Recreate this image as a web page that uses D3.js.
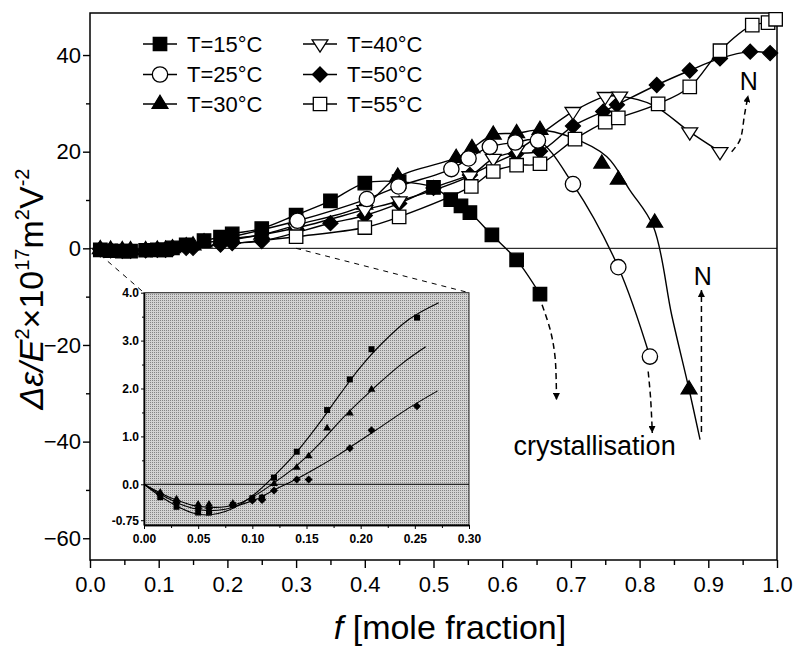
<!DOCTYPE html>
<html>
<head>
<meta charset="utf-8">
<script src="https://cdn.jsdelivr.net/npm/d3@7"></script>
<style>
body { margin: 0; background: #fff; }
svg { display: block; }
text { font-family: "Liberation Sans", Arial, sans-serif; }
</style>
</head>
<body>
<svg id="chart" width="795" height="650"></svg>
<script>
// ---- data (f = mole fraction, value = d-eps/E^2 x 1e17) ----
const legendLabels = ["T=15°C", "T=25°C", "T=30°C", "T=40°C", "T=50°C", "T=55°C"];
const xTicks = [0, 0.1, 0.2, 0.3, 0.4, 0.5, 0.6, 0.7, 0.8, 0.9, 1.0];
const yTicks = [-60, -40, -20, 0, 20, 40];
const insetXTicks = [0, 0.05, 0.10, 0.15, 0.20, 0.25, 0.30];
const insetYTicks = [-0.75, 0, 1, 2, 3, 4];

const t15 = [[0.015,-0.3],[0.03,-0.5],[0.047,-0.6],[0.059,-0.6],[0.081,-0.4],[0.098,-0.3],[0.11,-0.3],[0.12,0.1],[0.14,0.7],[0.166,1.6],[0.19,2.3],[0.207,3.0],[0.25,4.1],[0.30,6.9],[0.35,9.8],[0.40,13.5],[0.45,13.8],[0.50,12.6],[0.525,10.1],[0.54,8.8],[0.553,7.4],[0.585,2.8],[0.621,-2.4],[0.655,-9.5]];
const t25 = [[0.302,5.7],[0.403,10.2],[0.449,12.8],[0.526,16.4],[0.551,18.6],[0.582,21.0],[0.619,21.9],[0.652,22.3],[0.703,13.3],[0.769,-3.9],[0.815,-22.4]];
const t25Start = [[0.20,2.2]];
const t30 = [[0.015,-0.2],[0.03,-0.3],[0.047,-0.4],[0.059,-0.4],[0.081,-0.4],[0.098,-0.3],[0.11,-0.3],[0.12,0.0],[0.14,0.4],[0.15,0.6],[0.166,1.2],[0.19,1.5],[0.207,2.0],[0.25,2.8],[0.30,4.8],[0.40,9.0],[0.448,14.8],[0.533,18.7],[0.556,20.7],[0.587,23.5],[0.621,23.8],[0.655,24.5],[0.745,17.5],[0.769,14.2],[0.822,5.3],[0.872,-29.2]];
const t30Tail = [[0.70,23.0],[0.752,19.0],[0.786,12.0],[0.82,4.5],[0.847,-14.0],[0.872,-29.2],[0.888,-39.6]];
const t40 = [[0.30,4.2],[0.40,8.0],[0.45,9.8],[0.553,15.0],[0.587,18.6],[0.621,20.3],[0.703,28.3],[0.750,31.4],[0.771,31.5],[0.873,24.1],[0.917,20.0]];
const t40Start = [[0.20,1.6]];
const t40Tail = [[0.82,29.6],[0.873,24.1],[0.917,20.0]];
const t50 = [[0.015,-0.2],[0.03,-0.4],[0.047,-0.5],[0.059,-0.5],[0.081,-0.4],[0.098,-0.3],[0.11,-0.3],[0.12,-0.1],[0.14,0.1],[0.15,0.1],[0.19,0.8],[0.207,1.1],[0.25,1.5],[0.35,5.2],[0.40,6.8],[0.45,9.3],[0.50,12.5],[0.553,15.2],[0.62,19.5],[0.655,20.1],[0.703,25.3],[0.747,28.3],[0.767,29.7],[0.825,33.8],[0.873,36.8],[0.917,39.3],[0.961,40.7],[0.990,40.4]];
const t55 = [[0.30,2.4],[0.40,4.3],[0.45,6.5],[0.555,12.8],[0.587,15.9],[0.621,17.2],[0.655,17.5],[0.706,22.6],[0.750,26.1],[0.769,27.0],[0.827,29.9],[0.873,33.4],[0.917,40.9],[0.964,46.2],[0.987,46.7],[0.998,47.4]];
const t55Start = [[0.20,0.9]];

// inset (first part of the curves, enlarged)
const inset15 = [[0.015,-0.27],[0.03,-0.47],[0.05,-0.59],[0.06,-0.59],[0.082,-0.43],[0.10,-0.29],[0.109,-0.28],[0.12,0.14],[0.141,0.68],[0.169,1.55],[0.19,2.19],[0.21,2.82],[0.252,3.48]];
const inset30 = [[0.015,-0.17],[0.03,-0.31],[0.05,-0.42],[0.06,-0.42],[0.082,-0.40],[0.10,-0.31],[0.109,-0.28],[0.12,0.01],[0.141,0.35],[0.152,0.59],[0.169,1.17],[0.19,1.48],[0.21,1.98]];
const inset50 = [[0.015,-0.22],[0.03,-0.38],[0.05,-0.50],[0.06,-0.50],[0.082,-0.43],[0.10,-0.34],[0.109,-0.33],[0.12,-0.13],[0.141,0.10],[0.152,0.10],[0.19,0.75],[0.21,1.13],[0.252,1.63]];
const fit15 = [[0,0],[0.015,-0.25],[0.03,-0.45],[0.045,-0.6],[0.06,-0.64],[0.075,-0.57],[0.09,-0.4],[0.105,-0.15],[0.12,0.17],[0.14,0.65],[0.16,1.22],[0.18,1.85],[0.20,2.45],[0.22,2.95],[0.245,3.45],[0.272,3.79]];
const fit30 = [[0,0],[0.015,-0.18],[0.03,-0.33],[0.045,-0.44],[0.06,-0.48],[0.075,-0.47],[0.09,-0.38],[0.105,-0.2],[0.12,0.03],[0.14,0.37],[0.16,0.8],[0.18,1.3],[0.20,1.75],[0.22,2.17],[0.24,2.55],[0.26,2.87]];
const fit50 = [[0,0],[0.015,-0.21],[0.03,-0.38],[0.045,-0.5],[0.06,-0.55],[0.075,-0.52],[0.09,-0.42],[0.105,-0.3],[0.12,-0.12],[0.14,0.1],[0.16,0.35],[0.18,0.62],[0.20,0.92],[0.22,1.22],[0.245,1.6],[0.271,1.95]];

// dashed arrows (phase transitions)
const arrow15 = [[0.658,-11.7],[0.670,-16.9],[0.677,-22.6],[0.679,-31.4]];
const arrow25 = [[0.8125,-25.5],[0.816,-31.0],[0.8185,-38.2]];
const arrowN30 = [[0.890,-38.0],[0.890,-8.6]];
const arrowN40 = [[0.934,20.0],[0.946,22.4],[0.953,27.9],[0.958,31.7]];

// ---- symbols ----
const symSquare = { draw(c, s) { const r = Math.sqrt(s) / 2; c.rect(-r, -r, 2 * r, 2 * r); } };
const symCircle = { draw(c, s) { const r = Math.sqrt(s) / 2; c.moveTo(r, 0); c.arc(0, 0, r, 0, 2 * Math.PI); } };
const symTriUp = { draw(c, s) { const w = Math.sqrt(s) / 2, h = w * 1.65; c.moveTo(0, -h * 2 / 3); c.lineTo(w, h / 3); c.lineTo(-w, h / 3); c.closePath(); } };
const symTriDown = { draw(c, s) { const w = Math.sqrt(s) / 2, h = w * 1.55; c.moveTo(0, h * 2 / 3); c.lineTo(w, -h / 3); c.lineTo(-w, -h / 3); c.closePath(); } };
const symDiamond = { draw(c, s) { const r = Math.sqrt(s) / 2; c.moveTo(0, -r); c.lineTo(r, 0); c.lineTo(0, r); c.lineTo(-r, 0); c.closePath(); } };

const series = [
    { label: legendLabels[0], pts: t15, line: t15, sym: symSquare, size: 180, fill: "#000" },
    { label: legendLabels[1], pts: t25, line: t25Start.concat(t25), sym: symCircle, size: 235, fill: "#fff" },
    { label: legendLabels[2], pts: t30, line: t30.filter(d => d[0] <= 0.66).concat(t30Tail), sym: symTriUp, size: 250, fill: "#000" },
    { label: legendLabels[3], pts: t40, line: t40Start.concat(t40.filter(d => d[0] <= 0.78), t40Tail), sym: symTriDown, size: 250, fill: "#fff" },
    { label: legendLabels[4], pts: t50, line: t50, sym: symDiamond, size: 225, fill: "#000" },
    { label: legendLabels[5], pts: t55, line: t55Start.concat(t55), sym: symSquare, size: 180, fill: "#fff" }
];
const drawOrder = [0, 2, 4, 3, 1, 5];

const svg = d3.select("#chart");
const x = d3.scaleLinear().domain([0, 1]).range([90, 777]);
const y = d3.scaleLinear().domain([-64.5, 48.7]).range([560, 13]);

const defs = svg.append("defs");
defs.append("marker")
    .attr("id", "head")
    .attr("viewBox", "0 0 10 10")
    .attr("refX", 10).attr("refY", 5)
    .attr("markerWidth", 7).attr("markerHeight", 7)
    .attr("markerUnits", "userSpaceOnUse")
    .attr("orient", "auto")
    .append("path").attr("d", "M0,0L10,5L0,10z").attr("fill", "#000");
const pat = defs.append("pattern")
    .attr("id", "stipple").attr("width", 2).attr("height", 2)
    .attr("patternUnits", "userSpaceOnUse");
pat.append("rect").attr("width", 2).attr("height", 2).attr("fill", "#d3d3d3");
pat.append("rect").attr("width", 1).attr("height", 1).attr("fill", "#858585");

// ---- main axes ----
const axisStyle = g => {
    g.select(".domain").remove();
    g.selectAll(".tick line").attr("stroke", "#000").attr("stroke-width", 1.4);
    g.selectAll(".tick text").style("font-size", "22px").attr("fill", "#000");
};
svg.append("g").attr("transform", "translate(0,560)")
    .call(d3.axisBottom(x).tickValues(xTicks).tickFormat(d3.format(".1f")).tickSize(8).tickPadding(8))
    .call(axisStyle);
svg.append("g").attr("transform", "translate(0,560)")
    .call(d3.axisBottom(x).tickValues(d3.range(0.05, 1, 0.1)).tickFormat("").tickSize(5))
    .call(axisStyle);
svg.append("g").attr("transform", "translate(90,0)")
    .call(d3.axisLeft(y).tickValues(yTicks).tickSize(7).tickPadding(2))
    .call(axisStyle);
svg.append("g").attr("transform", "translate(90,0)")
    .call(d3.axisLeft(y).tickValues([-50, -30, -10, 10, 30]).tickFormat("").tickSize(4))
    .call(axisStyle);

svg.append("rect")
    .attr("x", x(0)).attr("y", y(48.7))
    .attr("width", x(1) - x(0)).attr("height", y(-64.5) - y(48.7))
    .attr("fill", "none").attr("stroke", "#000").attr("stroke-width", 1.5);
svg.append("line")
    .attr("x1", x(0)).attr("x2", x(1)).attr("y1", y(0)).attr("y2", y(0))
    .attr("stroke", "#000").attr("stroke-width", 1);

// axis titles
const yTitle = svg.append("text")
    .attr("transform", "translate(43,289) rotate(-90)")
    .attr("text-anchor", "middle")
    .style("font-size", "34px");
const supParts = [["Δε/", false, true], ["E", false, true], ["2", true], ["×10", false], ["17", true], ["m", false], ["2", true], ["V", false], ["-2", true]];
let up = false;
supParts.forEach(p => {
    const ts = yTitle.append("tspan").text(p[0]);
    if (p[2]) ts.style("font-style", "italic");
    if (p[1]) { ts.style("font-size", "20px").attr("dy", up ? 0 : -14); up = true; }
    else { ts.attr("dy", up ? 14 : 0); up = false; }
});
const xTitle = svg.append("text")
    .attr("x", 450).attr("y", 639)
    .attr("text-anchor", "middle")
    .style("font-size", "34px");
xTitle.append("tspan").style("font-style", "italic").text("f");
xTitle.append("tspan").text(" [mole fraction]");

// ---- inset ----
const ix = d3.scaleLinear().domain([0, 0.3]).range([144, 469]);
const iy = d3.scaleLinear().domain([-0.85, 4.0]).range([525, 292.7]);

// dashed connectors from the main plot to the inset
const conn = svg.append("g").attr("stroke", "#000").attr("stroke-width", 1).attr("stroke-dasharray", "5,5");
conn.append("line").attr("x1", x(0.004)).attr("y1", y(0)).attr("x2", ix(0)).attr("y2", iy(4.0));
conn.append("line").attr("x1", x(0.3)).attr("y1", y(0)).attr("x2", ix(0.3)).attr("y2", iy(4.0));

svg.append("rect")
    .attr("x", ix(0)).attr("y", iy(4.0))
    .attr("width", ix(0.3) - ix(0)).attr("height", iy(-0.85) - iy(4.0))
    .attr("fill", "url(#stipple)").attr("stroke", "#222").attr("stroke-width", 1);
svg.append("line")
    .attr("x1", ix(0)).attr("x2", ix(0.3)).attr("y1", iy(0)).attr("y2", iy(0))
    .attr("stroke", "#000").attr("stroke-width", 1);

const insetAxisStyle = g => {
    g.select(".domain").attr("stroke", "#000").attr("stroke-width", 1.3);
    g.selectAll(".tick line").attr("stroke", "#000");
    g.selectAll(".tick text").style("font-size", "12px").style("font-weight", "bold").attr("fill", "#000");
};
svg.append("g").attr("transform", `translate(0,${iy(-0.85)})`)
    .call(d3.axisBottom(ix).tickValues(insetXTicks).tickFormat(d3.format(".2f")).tickSize(4).tickSizeOuter(0).tickPadding(5))
    .call(insetAxisStyle);
svg.append("g").attr("transform", `translate(0,${iy(-0.85)})`)
    .call(d3.axisBottom(ix).tickValues(d3.range(0.025, 0.3, 0.05)).tickFormat("").tickSize(3).tickSizeOuter(0))
    .call(insetAxisStyle);
svg.append("g").attr("transform", `translate(${ix(0)},0)`)
    .call(d3.axisLeft(iy).tickValues(insetYTicks).tickFormat(d => d === -0.75 ? "-0.75" : d.toFixed(1)).tickSize(3).tickSizeOuter(0).tickPadding(2))
    .call(insetAxisStyle);
svg.append("g").attr("transform", `translate(${ix(0)},0)`)
    .call(d3.axisLeft(iy).tickValues([0.5, 1.5, 2.5, 3.5]).tickFormat("").tickSize(2).tickSizeOuter(0))
    .call(insetAxisStyle);

const insetLine = d3.line().x(d => ix(d[0])).y(d => iy(d[1])).curve(d3.curveCatmullRom.alpha(0.5));
[fit15, fit30, fit50].forEach(f => {
    svg.append("path").attr("d", insetLine(f)).attr("fill", "none").attr("stroke", "#000").attr("stroke-width", 1.1);
});
const insetSets = [
    { pts: inset15, sym: symSquare, size: 36 },
    { pts: inset30, sym: symTriUp, size: 64 },
    { pts: inset50, sym: symDiamond, size: 64 }
];
insetSets.forEach(s => {
    svg.append("g").selectAll("path").data(s.pts).join("path")
        .attr("transform", d => `translate(${ix(d[0])},${iy(d[1])})`)
        .attr("d", d3.symbol(s.sym, s.size))
        .attr("fill", "#000");
});

// ---- main series ----
const line = d3.line().x(d => x(d[0])).y(d => y(d[1])).curve(d3.curveCatmullRom.alpha(0.5));
series.forEach(s => {
    svg.append("path").attr("d", line(s.line))
        .attr("fill", "none").attr("stroke", "#000").attr("stroke-width", 1.4);
});

// dashed arrows
[arrow15, arrow25, arrowN30, arrowN40].forEach(a => {
    svg.append("path").attr("d", line(a))
        .attr("fill", "none").attr("stroke", "#000").attr("stroke-width", 1.5)
        .attr("stroke-dasharray", "6,4")
        .attr("marker-end", "url(#head)");
});

drawOrder.forEach(i => {
    const s = series[i];
    svg.append("g").selectAll("path").data(s.pts).join("path")
        .attr("transform", d => `translate(${x(d[0])},${y(d[1])})`)
        .attr("d", d3.symbol(s.sym, s.size))
        .attr("fill", s.fill).attr("stroke", "#000").attr("stroke-width", 1.3);
});

// annotations
svg.append("text").attr("x", x(0.959)).attr("y", y(32.8)).attr("text-anchor", "middle")
    .style("font-size", "25px").text("N");
svg.append("text").attr("x", x(0.892)).attr("y", y(-7.6)).attr("text-anchor", "middle")
    .style("font-size", "25px").text("N");
svg.append("text").attr("x", x(0.6166)).attr("y", y(-42.8))
    .style("font-size", "27px").text("crystallisation");

// ---- legend ----
const legend = svg.append("g");
const legendCols = [143, 303];
const legendRows = [44, 74.5, 104];
series.forEach((s, i) => {
    const cx = legendCols[Math.floor(i / 3)], cy = legendRows[i % 3];
    const g = legend.append("g").attr("transform", `translate(${cx},${cy})`);
    g.append("line").attr("x1", 0).attr("x2", 34).attr("stroke", "#000").attr("stroke-width", 1.4);
    g.append("path").attr("transform", "translate(17,0)")
        .attr("d", d3.symbol(s.sym, s.size))
        .attr("fill", s.fill).attr("stroke", "#000").attr("stroke-width", 1.3);
    g.append("text").attr("x", 44).attr("y", 7.5)
        .style("font-size", "22px").text(s.label);
});
</script>
</body>
</html>
